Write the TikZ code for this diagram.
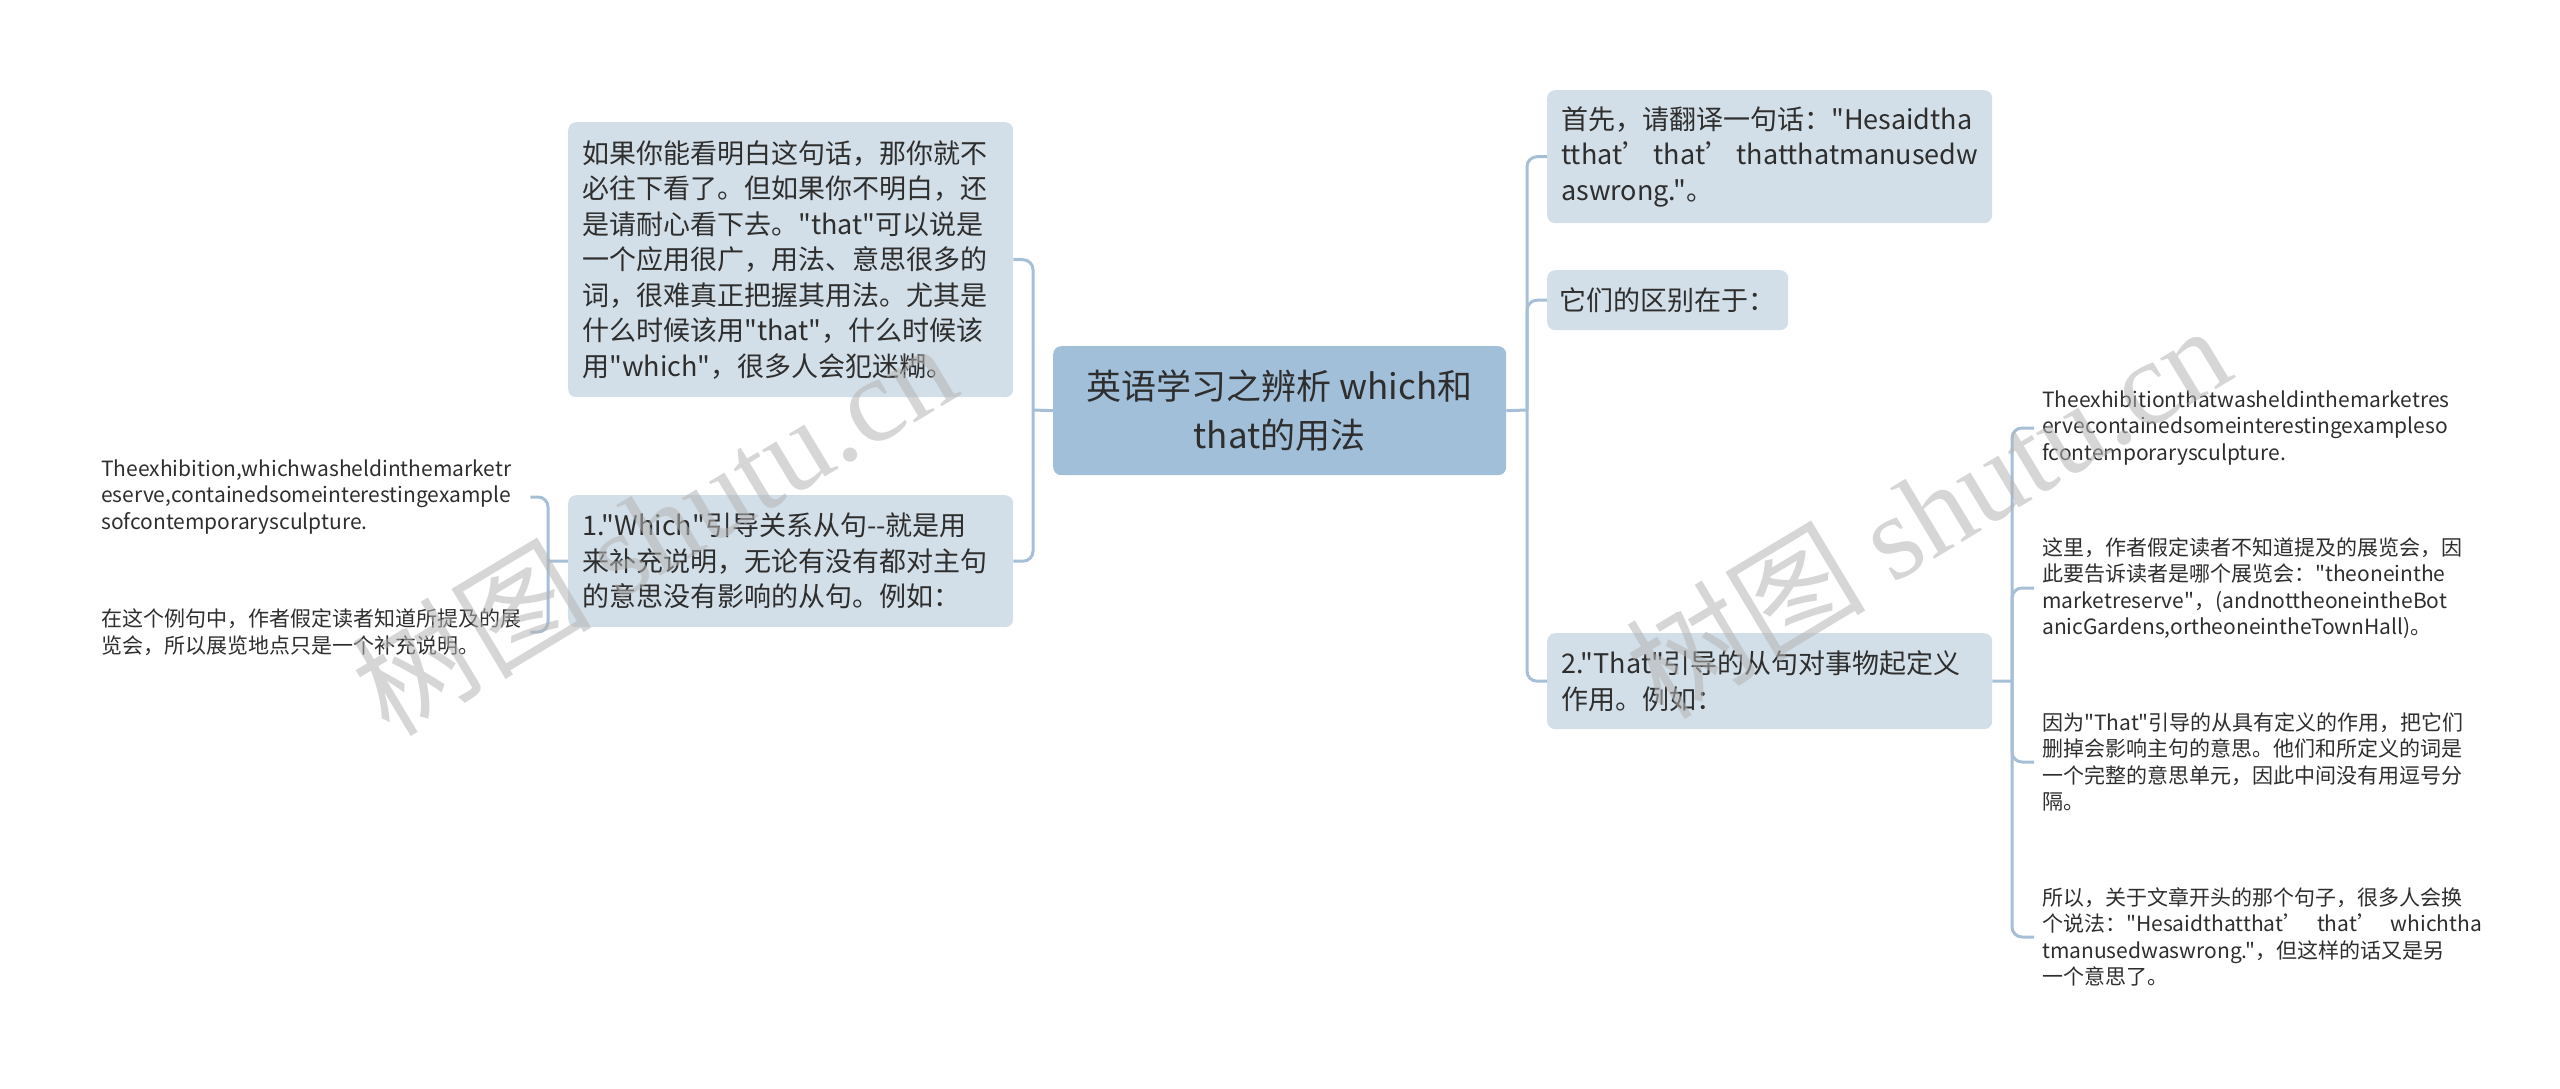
\documentclass[tikz,border=0pt]{standalone}
\usepackage{fontspec}
\setmainfont{Noto Sans CJK SC}[Ligatures=TeXOff]
\newfontfamily\wmlatin{Liberation Serif}
\usetikzlibrary{positioning}
\definecolor{boxfill}{HTML}{D3DFE8}
\definecolor{rootfill}{HTML}{A2BFDA}
\definecolor{linkcol}{HTML}{A6BFD7}
\definecolor{ink}{HTML}{2E2E2E}
\definecolor{wmcol}{HTML}{B4B4B4}
\newcommand\titlesize{\fontsize{35pt}{49pt}\selectfont}
\newcommand\topicsize{\fontsize{27pt}{35.5pt}\selectfont}
\newcommand\leafsize{\fontsize{21pt}{26.5pt}\selectfont}
\newcommand\wmsize{\fontsize{120pt}{120pt}\selectfont}

\begin{document}
\begin{tikzpicture}
    [x=1pt,y=1pt,
      root/.style={fill=rootfill,rounded corners=8pt,text=ink,font=\titlesize,align=center,
          inner sep=0pt,minimum width=453pt,minimum height=129pt,anchor=north west},
      topic/.style={fill=boxfill,rounded corners=8pt,text=ink,font=\topicsize,align=left,
          inner xsep=14pt,inner ysep=0pt,anchor=north west},
      leaf/.style={text=ink,font=\leafsize,align=left,inner xsep=8pt,inner ysep=0pt,anchor=west},
      link/.style={draw=linkcol,line width=3pt,rounded corners=10pt},
      wmark/.style={text=wmcol,opacity=0.55,font=\wmsize,rotate=31},
    ]
    \useasboundingbox (0,0) rectangle (2560,-1089);

    \node [root] (root) at (1053,-346) {英语学习之辨析 which和\\that的用法};

    \node [topic,text width=417pt,minimum height=275pt] (intro) at (568,-122)
      {如果你能看明白这句话，那你就不\\必往下看了。但如果你不明白，还\\是请耐心看下去。"that"可以说是\\一个应用很广，用法、意思很多的\\词，很难真正把握其用法。尤其是\\什么时候该用"that"，什么时候该\\用"which"，很多人会犯迷糊。};
    \node [topic,text width=417pt,minimum height=132pt] (which) at (568,-495)
      {1."Which"引导关系从句-{}-就是用\\来补充说明，无论有没有都对主句\\的意思没有影响的从句。例如：};
    \node [topic,text width=417pt,minimum height=133pt] (first) at (1547,-90)
      {首先，请翻译一句话："Hesaidtha\\tthat’\hfill that’\hfill thatthatmanusedw\\aswrong."。};
    \node [topic,inner xsep=12pt,minimum width=241pt,minimum height=60pt] (diff) at (1547,-270)
      {它们的区别在于：};
    \node [topic,text width=417pt,minimum height=96pt] (that) at (1547,-633)
      {2."That"引导的从句对事物起定义\\作用。例如：};

    \node [leaf,text width=421pt] (lf1) at (93,-497)
      {Theexhibition,whichwasheldinthemarketr\\eserve,containedsomeinterestingexample\\sofcontemporarysculpture.};
    \node [leaf,text width=421pt] (lf2) at (93,-632)
      {在这个例句中，作者假定读者知道所提及的展\\览会，所以展览地点只是一个补充说明。};

    \node [leaf,text width=440pt] (rf1) at (2034,-428)
      {Theexhibitionthatwasheldinthemarketres\\ervecontainedsomeinterestingexampleso\\fcontemporarysculpture.};
    \node [leaf,text width=440pt] (rf2) at (2034,-588)
      {这里，作者假定读者不知道提及的展览会，因\\此要告诉读者是哪个展览会："theoneinthe\\marketreserve"，(andnottheoneintheBot\\anicGardens,ortheoneintheTownHall)。};
    \node [leaf,text width=440pt] (rf3) at (2034,-762)
      {因为"That"引导的从具有定义的作用，把它们\\删掉会影响主句的意思。他们和所定义的词是\\一个完整的意思单元，因此中间没有用逗号分\\隔。};
    \node [leaf,text width=440pt] (rf4) at (2034,-937)
      {所以，关于文章开头的那个句子，很多人会换\\个说法："Hesaidthatthat’\hfill that’\hfill whichtha\\tmanusedwaswrong."，但这样的话又是另\\一个意思了。};

    \coordinate (jl) at (1033,-410);
    \coordinate (jr) at (1527,-410);
    \coordinate (bl) at (548,-561);
    \coordinate (br) at (2012,-681);

    \draw [link] (root.west) -- (jl);
    \draw [link] (intro.east) -| (jl) |- (which.east);
    \draw [link] (root.east) -- (jr);
    \draw [link] (first.west) -| (jr) |- (that.west);
    \draw [link] (diff.west) -| (jr);

    \draw [link] (which.west) -- (bl);
    \draw [link] (lf1.east) -| (bl) |- (lf2.east);

    \draw [link] (that.east) -- (br);
    \draw [link] (rf1.west) -| (br) |- (rf4.west);
    \draw [link] (rf2.west) -| (br);
    \draw [link] (rf3.west) -| (br);

    \node [wmark] (wm1) at (653,-527) {树图 {\wmlatin shutu.cn}};
    \node [wmark] (wm2) at (1927,-510) {树图 {\wmlatin shutu.cn}};
  \end{tikzpicture}
\end{document}
